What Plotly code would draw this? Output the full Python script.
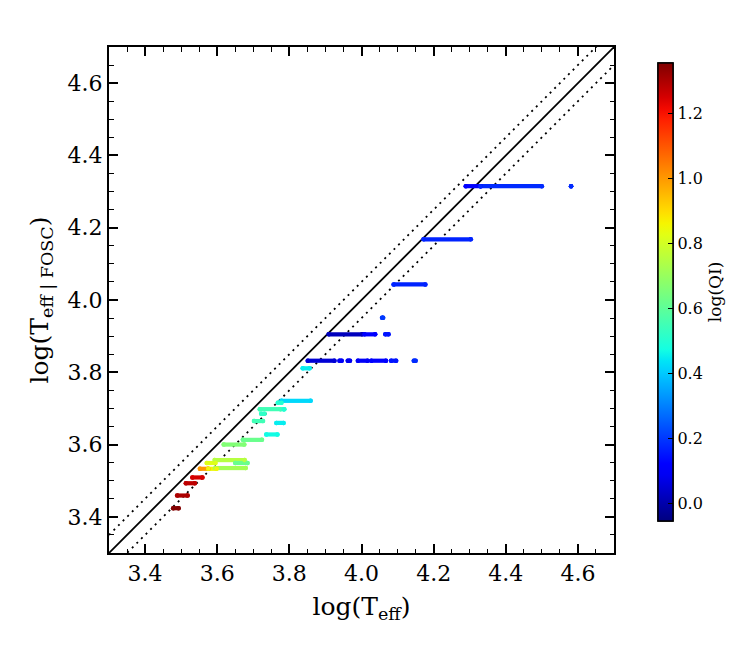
import plotly.graph_objects as go
import plotly.colors as pc

# ---- data: horizontal streaks (log Teff_FOSC level, log Teff start, log Teff end, log QI) ----
seg_y = [4.315, 4.315, 4.315, 4.168, 4.043, 3.951, 3.905, 3.905, 3.905,
         3.832, 3.832, 3.832, 3.832, 3.832, 3.832, 3.832, 3.811,
         3.721, 3.716, 3.698, 3.698, 3.685, 3.665, 3.660, 3.628, 3.613, 3.600,
         3.557, 3.549, 3.549, 3.535, 3.533, 3.533, 3.509, 3.493, 3.459, 3.424]
seg_x0 = [4.289, 4.330, 4.581, 4.172, 4.089, 4.057, 3.909, 4.008, 4.066,
          3.851, 3.939, 3.962, 3.990, 4.027, 4.082, 4.145, 3.837,
          3.778, 3.768, 3.718, 3.784, 3.722, 3.702, 3.764, 3.736, 3.671, 3.618,
          3.593, 3.571, 3.650, 3.595, 3.552, 3.575, 3.531, 3.513, 3.489, 3.478]
seg_x1 = [4.330, 4.500, 4.581, 4.303, 4.177, 4.060, 4.002, 4.038, 4.075,
          3.925, 3.945, 3.968, 4.017, 4.068, 4.096, 4.150, 3.856,
          3.859, 3.778, 3.776, 3.786, 3.731, 3.727, 3.784, 3.767, 3.724, 3.675,
          3.676, 3.595, 3.684, 3.679, 3.575, 3.598, 3.559, 3.538, 3.518, 3.493]
seg_q = [0.12, 0.18, 0.18, 0.17, 0.17, 0.20, 0.02, 0.12, 0.15,
         0.05, 0.10, 0.08, 0.10, 0.12, 0.15, 0.18, 0.45,
         0.42, 0.50, 0.55, 0.50, 0.52, 0.55, 0.45, 0.47, 0.62, 0.66,
         0.75, 0.82, 0.62, 0.72, 1.00, 0.85, 1.25, 1.28, 1.30, 1.35]

axis_range = [3.3, 4.7]
band = 0.05
q_min, q_max = -0.055, 1.355
cb_major = [0.0, 0.2, 0.4, 0.6, 0.8, 1.0, 1.2]
cb_minor = [0.0, 0.1, 0.2, 0.3, 0.4, 0.5, 0.6, 0.7, 0.8, 0.9, 1.0, 1.1, 1.2, 1.3]

# matplotlib-like jet colour scale
def jet(t):
    def interp(pts, v):
        for (a, ya), (b, yb) in zip(pts[:-1], pts[1:]):
            if a <= v <= b:
                return ya + (yb - ya) * (v - a) / (b - a) if b > a else yb
        return pts[-1][1]
    r = interp([(0, 0), (0.35, 0), (0.66, 1), (0.89, 1), (1, 0.5)], t)
    g = interp([(0, 0), (0.125, 0), (0.375, 1), (0.64, 1), (0.91, 0), (1, 0)], t)
    b = interp([(0, 0.5), (0.11, 1), (0.34, 1), (0.65, 0), (1, 0)], t)
    return f"rgb({int(r*255)},{int(g*255)},{int(b*255)})"

jet_scale = [[i / 40, jet(i / 40)] for i in range(41)]

def qcolor(q):
    t = (q - q_min) / (q_max - q_min)
    return pc.sample_colorscale(jet_scale, [min(max(t, 0), 1)])[0]

FONT = "DejaVu Serif"
fig = go.Figure()

# reference lines
fig.add_trace(go.Scatter(x=axis_range, y=axis_range, mode="lines",
                         line=dict(color="black", width=1.8), showlegend=False, hoverinfo="skip"))
for off in (band, -band):
    fig.add_trace(go.Scatter(x=axis_range, y=[axis_range[0] + off, axis_range[1] + off], mode="lines",
                             line=dict(color="black", width=1.8, dash="2px,4.5px"),
                             showlegend=False, hoverinfo="skip"))

# streaks
for y, x0, x1, q in zip(seg_y, seg_x0, seg_x1, seg_q):
    fig.add_trace(go.Scatter(x=[x0, x1], y=[y, y], mode="lines",
                             line=dict(color=qcolor(q), width=4.2), showlegend=False, hoverinfo="skip"))

# end caps + colour bar
px, py, pq = [], [], []
for y, x0, x1, q in zip(seg_y, seg_x0, seg_x1, seg_q):
    px += [x0, x1]; py += [y, y]; pq += [q, q]

cb_common = dict(x=1.087, xanchor="left", xpad=0, y=0.516, yanchor="middle", ypad=0,
                 len=458, lenmode="pixels", thickness=15, thicknessmode="pixels",
                 outlinewidth=1.5, outlinecolor="black", ticks="inside", tickcolor="black")

# minor ticks colour bar (no labels)
fig.add_trace(go.Scatter(
    x=px, y=py, mode="markers", showlegend=False, hoverinfo="skip",
    marker=dict(size=4.5, color=pq, colorscale=jet_scale, cmin=q_min, cmax=q_max, line=dict(width=0),
                showscale=True,
                colorbar=dict(**cb_common, tickvals=cb_minor, ticklen=3, showticklabels=False)),
))
# labelled colour bar
fig.add_trace(go.Scatter(
    x=px, y=py, mode="markers", showlegend=False,
    marker=dict(size=4.5, color=pq, colorscale=jet_scale, cmin=q_min, cmax=q_max, line=dict(width=0),
                showscale=True,
                colorbar=dict(**cb_common, tickvals=cb_major, ticklen=5, tickformat=".1f",
                              tickfont=dict(family=FONT, size=16, color="black"),
                              title=dict(text="log(QI)", side="right",
                                         font=dict(family=FONT, size=17, color="black")))),
))

axis_common = dict(range=axis_range, showgrid=False, zeroline=False, ticks="inside",
                   ticklen=9, tickwidth=1.5, tickcolor="black", showline=True, linecolor="black",
                   linewidth=2, mirror="allticks", dtick=0.2, tickformat=".1f",
                   tickfont=dict(family=FONT, size=22, color="black"),
                   minor=dict(dtick=0.05, ticks="inside", ticklen=4.5, tickwidth=1.2, tickcolor="black"))

fig.update_xaxes(**axis_common, title=dict(text="log(T<sub>eff</sub>)", standoff=12,
                                           font=dict(family=FONT, size=25, color="black")))
fig.update_yaxes(**axis_common, title=dict(text="log(T<sub>eff | FOSC</sub>)", standoff=12,
                                           font=dict(family=FONT, size=25, color="black")))

fig.update_layout(width=740, height=645, margin=dict(l=101, r=134, t=39, b=100),
                  plot_bgcolor="white", paper_bgcolor="white")

fig.write_html("out.html")
